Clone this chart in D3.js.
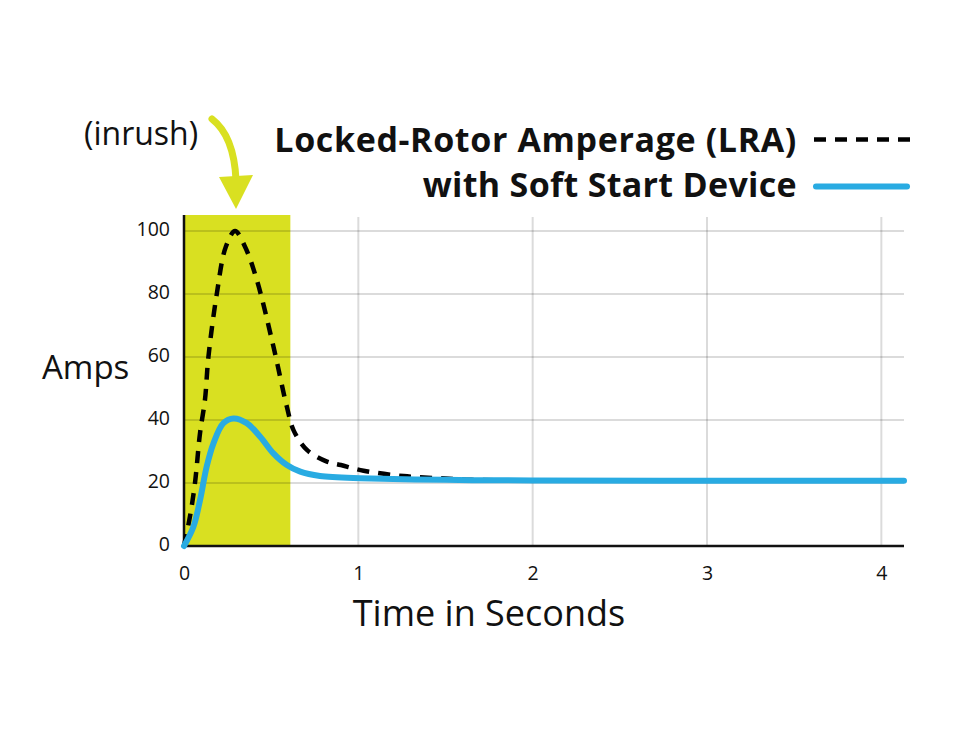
<!DOCTYPE html>
<html>
<head>
<meta charset="utf-8">
<script src="https://cdn.jsdelivr.net/npm/d3@7"></script>
<style>
  html, body { margin: 0; padding: 0; background: #ffffff; }
  svg { display: block; }
</style>
</head>
<body>
<svg id="chart" width="968" height="744"></svg>
<script>
// ---- Data ----
const lraTime   = [0, 0.034, 0.063, 0.092, 0.12, 0.14, 0.188, 0.24, 0.293, 0.35, 0.418, 0.513, 0.59, 0.628, 0.705, 0.82, 0.9, 1.03, 1.26, 1.5, 1.65, 2, 3, 4.13];
const lraAmps   = [0, 9.3, 20, 35.9, 46.3, 60, 80, 95, 100, 95, 84.4, 63.3, 44.2, 36.8, 30.5, 26.8, 25.7, 23.9, 22.2, 21.4, 21, 20.8, 20.7, 20.7];
const softTime  = [0, 0.054, 0.092, 0.13, 0.169, 0.226, 0.284, 0.36, 0.437, 0.513, 0.59, 0.667, 0.78, 0.877, 1.01, 1.5, 2, 3, 4.13];
const softAmps  = [0, 6.1, 14.6, 25.2, 32.6, 39, 40.5, 39, 34.7, 29.4, 25.7, 23.6, 22.2, 21.8, 21.5, 21, 20.8, 20.7, 20.7];
const xTicks    = [0, 1, 2, 3, 4];
const yTicks    = [0, 20, 40, 60, 80, 100];
const inrushEnd = 0.61;
const seriesNames = ["Locked-Rotor Amperage (LRA)", "with Soft Start Device"];

const lraData  = lraTime.map((t, i) => ({ t, a: lraAmps[i] }));
const softData = softTime.map((t, i) => ({ t, a: softAmps[i] }));

// ---- Layout ----
const svg = d3.select("#chart");
const x = d3.scaleLinear().domain([0, 4.13]).range([184, 904]);
const y = d3.scaleLinear().domain([0, 100]).range([546, 231]);
const yTop = 215;

const yellow = "#d9e021";
const blue = "#29abe2";
const regFont = "'Open Sans', Lato, sans-serif";
const boldFont = "'Open Sans', Lato, sans-serif";

// inrush band
svg.append("rect")
  .attr("x", x(0)).attr("y", yTop)
  .attr("width", x(inrushEnd) - x(0))
  .attr("height", y(0) - yTop)
  .attr("fill", yellow);

// grid
svg.append("g").selectAll("line").data(yTicks.filter(d => d > 0)).join("line")
  .attr("x1", x(0)).attr("x2", x.range()[1])
  .attr("y1", d => y(d)).attr("y2", d => y(d))
  .attr("stroke", "#000").attr("stroke-opacity", 0.14).attr("stroke-width", 2);
svg.append("g").selectAll("line").data(xTicks.filter(d => d > 0)).join("line")
  .attr("x1", d => x(d)).attr("x2", d => x(d))
  .attr("y1", yTop + 2).attr("y2", y(0))
  .attr("stroke", "#000").attr("stroke-opacity", 0.14).attr("stroke-width", 2);

// axes
const yAxis = d3.axisLeft(y).tickValues(yTicks).tickSize(0).tickPadding(14);
const gy = svg.append("g").attr("transform", `translate(${x(0)},-2)`).call(yAxis);
gy.select(".domain").remove();
gy.selectAll("text").attr("font-family", regFont).attr("font-size", 19.5).attr("fill", "#111");

const xAxis = d3.axisBottom(x).tickValues(xTicks).tickSize(0).tickPadding(20).tickFormat(d3.format("d"));
const gx = svg.append("g").attr("transform", `translate(0,${y(0)})`).call(xAxis);
gx.select(".domain").remove();
gx.selectAll("text").attr("font-family", regFont).attr("font-size", 19.5).attr("fill", "#111");

svg.append("line").attr("x1", x(0)).attr("x2", x(0)).attr("y1", yTop).attr("y2", y(0) + 1)
  .attr("stroke", "#111").attr("stroke-width", 2.5);
svg.append("line").attr("x1", x(0) - 1).attr("x2", x.range()[1]).attr("y1", y(0)).attr("y2", y(0))
  .attr("stroke", "#111").attr("stroke-width", 2.5);

// lines
const line = d3.line().x(d => x(d.t)).y(d => y(d.a)).curve(d3.curveCatmullRom.alpha(0.5));
svg.append("path").datum(lraData).attr("d", line)
  .attr("fill", "none").attr("stroke", "#000").attr("stroke-width", 4.5)
  .attr("stroke-dasharray", "12,9");
svg.append("path").datum(softData).attr("d", line)
  .attr("fill", "none").attr("stroke", blue).attr("stroke-width", 6)
  .attr("stroke-linecap", "round");

// axis titles
svg.append("text").attr("x", 42).attr("y", 379).text("Amps")
  .attr("font-family", regFont).attr("font-size", 33).attr("fill", "#111");
svg.append("text").attr("x", 489).attr("y", 626).attr("text-anchor", "middle").text("Time in Seconds")
  .attr("font-family", regFont).attr("font-size", 36).attr("fill", "#111");

// legend
function fitText(sel, target) {
  const w = sel.node().getComputedTextLength();
  const n = sel.text().length;
  sel.attr("letter-spacing", ((target - w) / (n - 1)).toFixed(2));
}
const legend = svg.append("g");
const l1 = legend.append("text").attr("x", 797).attr("y", 152).attr("text-anchor", "end").text(seriesNames[0])
  .attr("font-family", boldFont).attr("font-weight", 700).attr("font-size", 34).attr("fill", "#111");
const l2 = legend.append("text").attr("x", 797).attr("y", 197).attr("text-anchor", "end").text(seriesNames[1])
  .attr("font-family", boldFont).attr("font-weight", 700).attr("font-size", 34).attr("fill", "#111");
fitText(l1, 522);
fitText(l2, 374);
legend.append("line").attr("x1", 814).attr("x2", 910).attr("y1", 139.5).attr("y2", 139.5)
  .attr("stroke", "#000").attr("stroke-width", 4.5).attr("stroke-dasharray", "12,9");
legend.append("line").attr("x1", 816).attr("x2", 907).attr("y1", 186.5).attr("y2", 186.5)
  .attr("stroke", blue).attr("stroke-width", 6).attr("stroke-linecap", "round");

// inrush annotation
svg.append("text").attr("x", 84).attr("y", 145).text("(inrush)")
  .attr("font-family", regFont).attr("font-size", 32).attr("fill", "#111");
svg.append("path")
  .attr("d", "M212,119 Q234,136 236,180")
  .attr("fill", "none").attr("stroke", yellow).attr("stroke-width", 7).attr("stroke-linecap", "round");
svg.append("path")
  .attr("d", "M219,177 L253,175 L236,209 Z")
  .attr("fill", yellow);
</script>
</body>
</html>
